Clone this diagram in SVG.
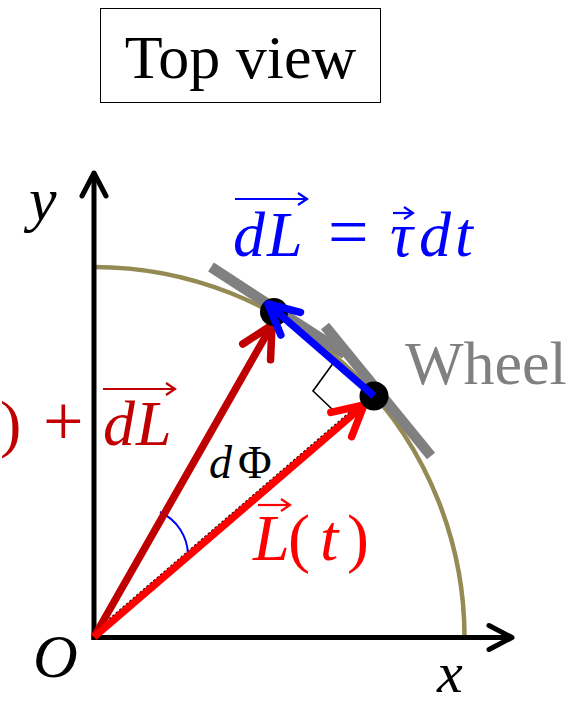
<svg xmlns="http://www.w3.org/2000/svg" width="583" height="705" viewBox="0 0 583 705">
<style>
text{font-family:"Liberation Serif","Times New Roman",serif}
.it{font-style:italic}
.ax{stroke:#000;stroke-width:5;fill:none}
.bar{stroke:#808080;stroke-width:10.5;fill:none}
.vec{stroke-width:7.5;fill:none}
.ov{stroke-width:2.2;fill:none}
.math{font-size:64px}
</style>
<defs>
<marker id="ahAx" markerUnits="userSpaceOnUse" viewBox="-40 -25 50 50" markerWidth="50" markerHeight="50" refX="0" refY="0" orient="auto"><path d="M-23,-12 L0,0 L-23,12" fill="none" stroke="#000" stroke-width="5" stroke-linecap="round" stroke-linejoin="round"/></marker>
<marker id="ahDR" markerUnits="userSpaceOnUse" viewBox="-40 -25 50 50" markerWidth="50" markerHeight="50" refX="0" refY="0" orient="auto"><path d="M-31,-16 L0,0 L-31,16" fill="none" stroke="#C00000" stroke-width="7.5" stroke-linecap="round" stroke-linejoin="round"/></marker>
<marker id="ahR" markerUnits="userSpaceOnUse" viewBox="-40 -25 50 50" markerWidth="50" markerHeight="50" refX="0" refY="0" orient="auto"><path d="M-30,-16 L0,0 L-30,16" fill="none" stroke="#FF0000" stroke-width="7.5" stroke-linecap="round" stroke-linejoin="round"/></marker>
<marker id="ahB" markerUnits="userSpaceOnUse" viewBox="-40 -25 50 50" markerWidth="50" markerHeight="50" refX="0" refY="0" orient="auto"><path d="M-30,-15 L0,0 L-30,15" fill="none" stroke="#0000FF" stroke-width="7.5" stroke-linecap="round" stroke-linejoin="round"/></marker>
<marker id="ovB" markerUnits="userSpaceOnUse" viewBox="-15 -10 20 20" markerWidth="20" markerHeight="20" refX="0" refY="0" orient="auto"><path d="M-9,-6 L0,0 L-9,6" fill="none" stroke="#0000FF" stroke-width="2.2"/></marker>
<marker id="ovDR" markerUnits="userSpaceOnUse" viewBox="-15 -10 20 20" markerWidth="20" markerHeight="20" refX="0" refY="0" orient="auto"><path d="M-9,-6 L0,0 L-9,6" fill="none" stroke="#C00000" stroke-width="2.2"/></marker>
<marker id="ovR" markerUnits="userSpaceOnUse" viewBox="-15 -10 20 20" markerWidth="20" markerHeight="20" refX="0" refY="0" orient="auto"><path d="M-9,-6 L0,0 L-9,6" fill="none" stroke="#FF0000" stroke-width="2.2"/></marker>
</defs>
<rect width="583" height="705" fill="#fff"/>

<g id="title">
<rect x="100.5" y="8.5" width="280" height="94" fill="#fff" stroke="#000" stroke-width="1"/>
<text x="240.5" y="78" font-size="62" text-anchor="middle">Top view</text>
</g>

<g id="wheel">
<path d="M94,267 A370.5,370.5 0 0,1 464.5,637.5" fill="none" stroke="#948A54" stroke-width="4.5"/>
<line class="bar" x1="211" y1="267" x2="345" y2="354"/>
<line class="bar" x1="325" y1="326" x2="431" y2="456"/>
<text x="405" y="384" font-size="62" fill="#808080">Wheel</text>
</g>

<g id="axes">
<line class="ax" x1="94" y1="640" x2="94" y2="173" marker-end="url(#ahAx)"/>
<line class="ax" x1="91.5" y1="637.5" x2="512" y2="637.5" marker-end="url(#ahAx)"/>
<text class="it" x="29" y="220" font-size="62">y</text>
<text class="it" x="437" y="692" font-size="58">x</text>
<text class="it" x="33" y="677" font-size="62">O</text>
</g>

<g id="connectors">
<line x1="92" y1="634" x2="364" y2="400" stroke="#000" stroke-width="1.6" stroke-dasharray="2.5,2"/>
<path d="M160,512 A48,48 0 0,1 188,555" fill="none" stroke="#0000FF" stroke-width="2"/>
<polyline points="334,362 313,391 333,410" fill="none" stroke="#000" stroke-width="1.6"/>
<line class="vec" stroke="#C00000" x1="94" y1="637" x2="272" y2="325" marker-end="url(#ahDR)"/>
<line class="vec" stroke="#FF0000" x1="94" y1="637" x2="364" y2="405" marker-end="url(#ahR)"/>
</g>

<g id="point-upper"><circle cx="274" cy="312" r="14" fill="#000"/></g>
<g id="point-lower"><circle cx="374" cy="396" r="14.5" fill="#000"/></g>

<g id="dL-vector">
<line class="vec" stroke="#0000FF" x1="374" y1="396" x2="268" y2="304" marker-end="url(#ahB)"/>
</g>

<g id="label-dL-eq" fill="#0000FF">
<text class="math" y="256"><tspan class="it" x="233">d</tspan><tspan class="it" x="267">L</tspan><tspan x="328" font-size="72">=</tspan><tspan class="it" x="390">τ</tspan><tspan class="it" x="419">d</tspan><tspan class="it" x="455">t</tspan></text>
<line class="ov" stroke="#0000FF" x1="235" y1="199" x2="307" y2="199" marker-end="url(#ovB)"/>
<line class="ov" stroke="#0000FF" x1="393" y1="213" x2="413" y2="213" marker-end="url(#ovB)"/>
</g>

<g id="label-Lt-dL" fill="#C00000">
<text class="math" y="445"><tspan x="0">)</tspan><tspan x="43" font-size="72">+</tspan><tspan class="it" x="103">d</tspan><tspan class="it" x="136">L</tspan></text>
<line class="ov" stroke="#C00000" x1="103" y1="389" x2="175" y2="389" marker-end="url(#ovDR)"/>
</g>

<g id="label-Lt" fill="#FF0000">
<text y="560" font-size="66"><tspan class="it" x="253">L</tspan><tspan x="288">(</tspan><tspan class="it" x="320">t</tspan><tspan x="347">)</tspan></text>
<line class="ov" stroke="#FF0000" x1="258" y1="505" x2="290" y2="505" marker-end="url(#ovR)"/>
</g>

<g id="label-dPhi">
<text y="478" font-size="46"><tspan class="it" x="209">d</tspan><tspan x="238">Φ</tspan></text>
</g>
</svg>
